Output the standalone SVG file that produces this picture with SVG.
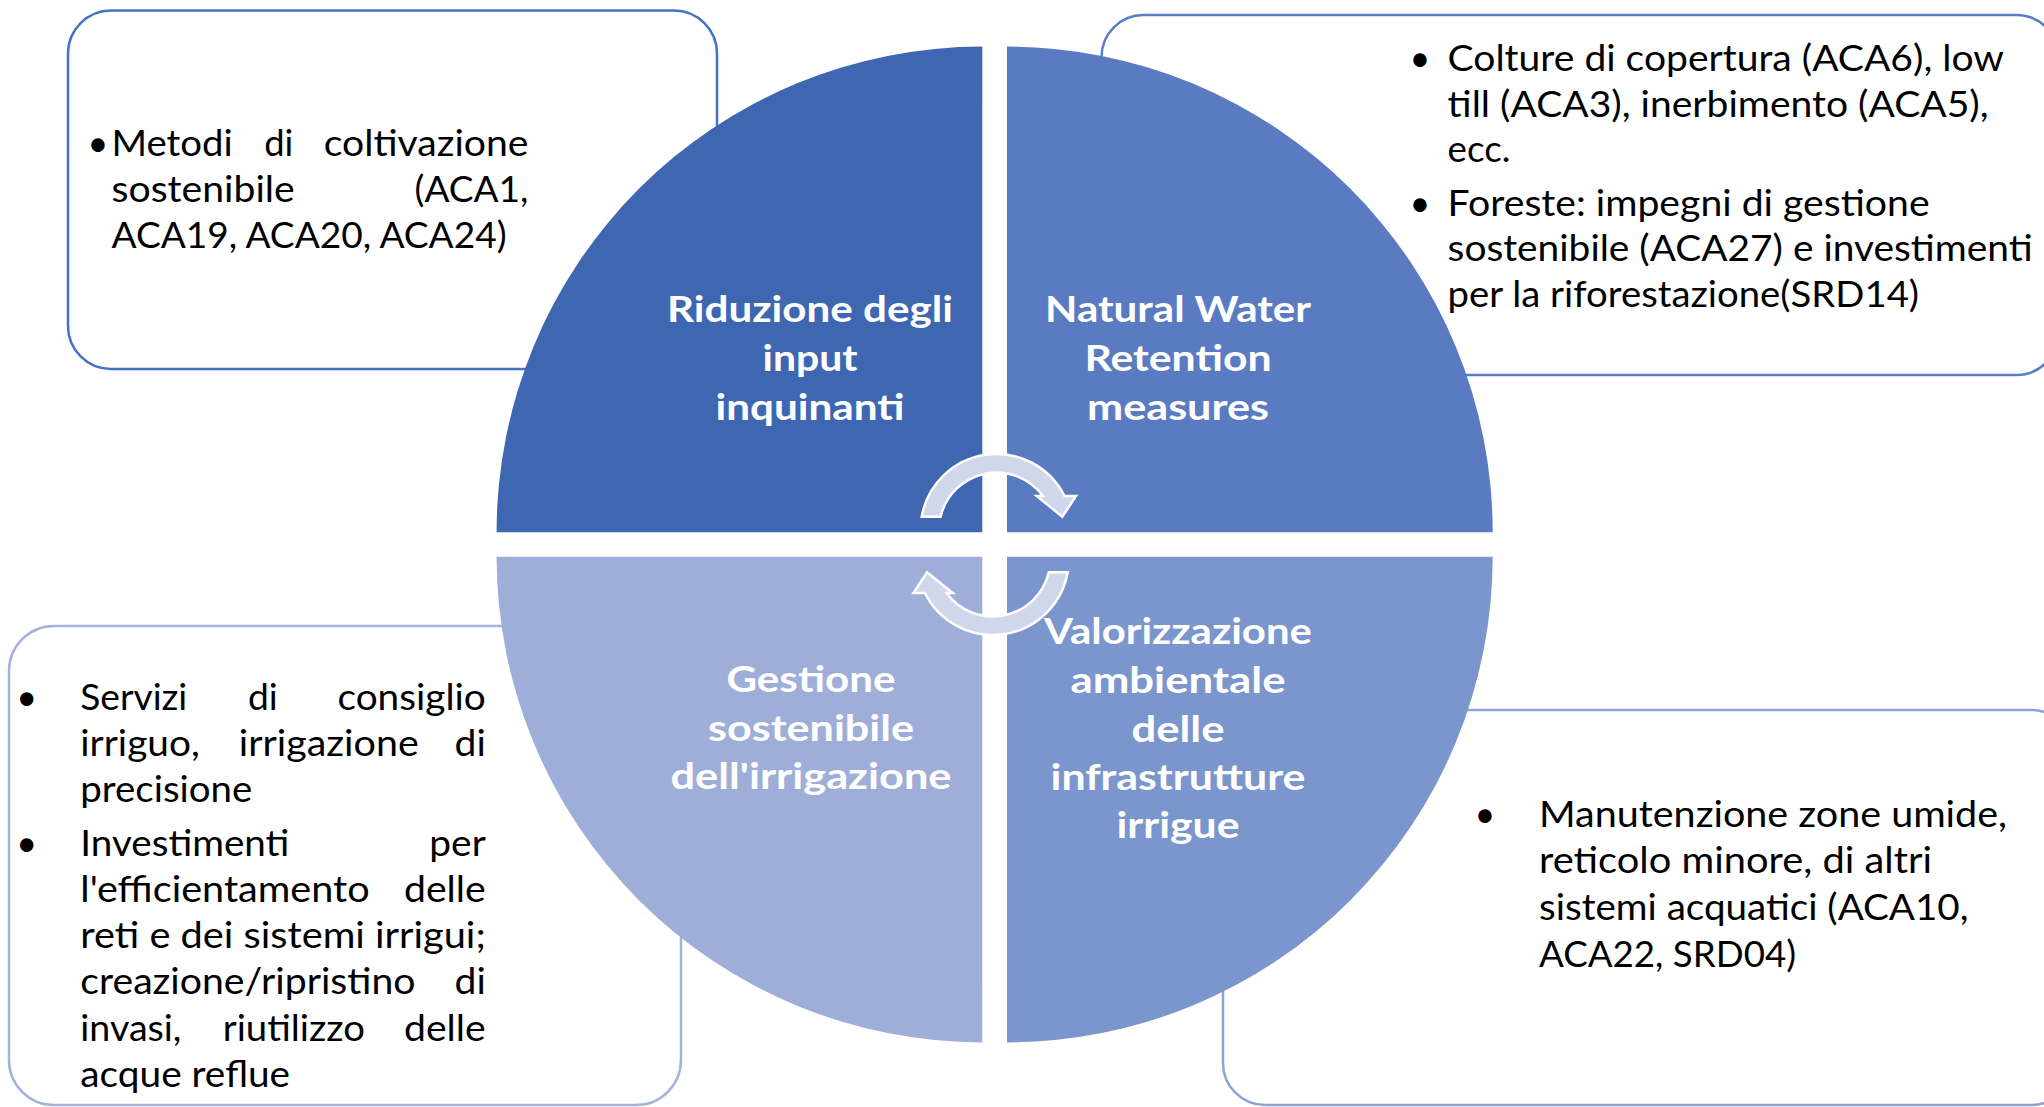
<svg xmlns="http://www.w3.org/2000/svg" xmlns:xlink="http://www.w3.org/1999/xlink" width="2044" height="1107" viewBox="0 0 2044 1107">
<style>
.box{fill:#fff;stroke-width:2.5}
.b1{stroke:#4472C4}.b2{stroke:#5A7DC8}.b3{stroke:#A3B3DE}.b4{stroke:#8BA2D8}
.t{font-family:Lato,"Liberation Sans",sans-serif;font-size:36px;fill:#000}
.bul{text-anchor:middle}
.lbl{font-family:Lato,"Liberation Sans",sans-serif;font-weight:700;font-size:37px;fill:#fff;text-anchor:middle}
.arr{fill:#D0D7EA;stroke:#fff;stroke-width:2.5;stroke-linejoin:miter}
</style>
<defs>
<path id="arrow" d="M 921.7,516.7 A 76 76 0 0 1 1064.5,496 L 1076,496 L 1062.3,516.7 L 1036.7,496 L 1042.9,496 A 57.5 57.5 0 0 0 940.6,516.7 Z"/>
</defs>
<rect width="2044" height="1107" fill="#fff"/>

<g id="box-tl">
<rect class="box b1" x="68" y="10.5" width="649" height="358.5" rx="43"/>
<g class="t">
<text class="bul" x="98" y="156">•</text>
<text x="111.5" y="156" textLength="121.2" lengthAdjust="spacingAndGlyphs">Metodi</text>
<text x="264.2" y="156" textLength="29.1" lengthAdjust="spacingAndGlyphs">di</text>
<text x="323.8" y="156" textLength="204.6" lengthAdjust="spacingAndGlyphs">coltivazione</text>
<text x="111.5" y="202" textLength="183.2" lengthAdjust="spacingAndGlyphs">sostenibile</text>
<text x="414.5" y="202" textLength="113.9" lengthAdjust="spacingAndGlyphs">(ACA1,</text>
<text x="111.5" y="248" textLength="395.1" lengthAdjust="spacingAndGlyphs">ACA19, ACA20, ACA24)</text>
</g>
</g>

<g id="box-tr">
<rect class="box b2" x="1101.5" y="15" width="957" height="360" rx="42"/>
<g class="t">
<text class="bul" x="1420" y="70.7">•</text>
<text class="bul" x="1420" y="215.5">•</text>
<text x="1447.6" y="70.7" textLength="556.4" lengthAdjust="spacingAndGlyphs">Colture di copertura (ACA6), low</text>
<text x="1447.6" y="116.5" textLength="541" lengthAdjust="spacingAndGlyphs">till (ACA3), inerbimento (ACA5),</text>
<text x="1447.6" y="162.3" textLength="62.7" lengthAdjust="spacingAndGlyphs">ecc.</text>
<text x="1447.6" y="215.5" textLength="482" lengthAdjust="spacingAndGlyphs">Foreste: impegni di gestione</text>
<text x="1447.6" y="261.3" textLength="585" lengthAdjust="spacingAndGlyphs">sostenibile (ACA27) e investimenti</text>
<text x="1447.6" y="307" textLength="471.5" lengthAdjust="spacingAndGlyphs">per la riforestazione(SRD14)</text>
</g>
</g>

<g id="box-bl">
<rect class="box b3" x="9" y="626" width="672" height="479" rx="45"/>
<g class="t">
<text class="bul" x="26.6" y="710">•</text>
<text class="bul" x="26.6" y="856">•</text>
<text x="80.3" y="710" textLength="107" lengthAdjust="spacingAndGlyphs">Servizi</text>
<text x="248" y="710" textLength="29.8" lengthAdjust="spacingAndGlyphs">di</text>
<text x="337.5" y="710" textLength="148.3" lengthAdjust="spacingAndGlyphs">consiglio</text>
<text x="80.3" y="756" textLength="119.4" lengthAdjust="spacingAndGlyphs">irriguo,</text>
<text x="238.7" y="756" textLength="180" lengthAdjust="spacingAndGlyphs">irrigazione</text>
<text x="454.5" y="756" textLength="31.3" lengthAdjust="spacingAndGlyphs">di</text>
<text x="80.3" y="802" textLength="172" lengthAdjust="spacingAndGlyphs">precisione</text>
<text x="80.3" y="856" textLength="209" lengthAdjust="spacingAndGlyphs">Investimenti</text>
<text x="429.3" y="856" textLength="56.5" lengthAdjust="spacingAndGlyphs">per</text>
<text x="80.3" y="902" textLength="289.3" lengthAdjust="spacingAndGlyphs">l'efficientamento</text>
<text x="404" y="902" textLength="81.8" lengthAdjust="spacingAndGlyphs">delle</text>
<text x="80.3" y="948" textLength="405.5" lengthAdjust="spacingAndGlyphs">reti e dei sistemi irrigui;</text>
<text x="80.3" y="994" textLength="335.2" lengthAdjust="spacingAndGlyphs">creazione/ripristino</text>
<text x="454.5" y="994" textLength="31.3" lengthAdjust="spacingAndGlyphs">di</text>
<text x="80.3" y="1041" textLength="101.1" lengthAdjust="spacingAndGlyphs">invasi,</text>
<text x="222.7" y="1041" textLength="142.3" lengthAdjust="spacingAndGlyphs">riutilizzo</text>
<text x="404" y="1041" textLength="81.8" lengthAdjust="spacingAndGlyphs">delle</text>
<text x="80.3" y="1087" textLength="209.8" lengthAdjust="spacingAndGlyphs">acque reflue</text>
</g>
</g>

<g id="box-br">
<rect class="box b4" x="1223" y="710" width="850" height="395" rx="42"/>
<g class="t">
<text class="bul" x="1485" y="826.7">•</text>
<text x="1539" y="826.7" textLength="468" lengthAdjust="spacingAndGlyphs">Manutenzione zone umide,</text>
<text x="1539" y="873.3" textLength="393" lengthAdjust="spacingAndGlyphs">reticolo minore, di altri</text>
<text x="1539" y="920" textLength="429.5" lengthAdjust="spacingAndGlyphs">sistemi acquatici (ACA10,</text>
<text x="1539" y="966.7" textLength="257" lengthAdjust="spacingAndGlyphs">ACA22, SRD04)</text>
</g>
</g>

<g id="quadrant-tl">
<path fill="#3F66B0" d="M 982.3,532.3 L 496.6,532.3 A 485.7 485.7 0 0 1 982.3,46.6 Z"/>
</g>
<g id="quadrant-tr">
<path fill="#5A7BC2" d="M 1007,532.3 L 1007,46.6 A 485.7 485.7 0 0 1 1492.7,532.3 Z"/>
</g>
<g id="quadrant-br">
<path fill="#7B95CD" d="M 1007,556.7 L 1492.7,556.7 A 485.7 485.7 0 0 1 1007,1042.4 Z"/>
</g>
<g id="quadrant-bl">
<path fill="#9FAED8" d="M 982.3,556.7 L 982.3,1042.4 A 485.7 485.7 0 0 1 496.6,556.7 Z"/>
</g>

<g id="connectors">
<use xlink:href="#arrow" class="arr"/>
<use xlink:href="#arrow" class="arr" transform="rotate(180 994.7 544.5)"/>
</g>

<g id="labels">
<g id="label-tl">
<text class="lbl" x="810" y="322" textLength="286" lengthAdjust="spacingAndGlyphs">Riduzione degli</text>
<text class="lbl" x="810" y="371" textLength="95" lengthAdjust="spacingAndGlyphs">input</text>
<text class="lbl" x="810" y="420" textLength="189" lengthAdjust="spacingAndGlyphs">inquinanti</text>
</g>
<g id="label-tr">
<text class="lbl" x="1178" y="322" textLength="266" lengthAdjust="spacingAndGlyphs">Natural Water</text>
<text class="lbl" x="1178" y="371" textLength="187" lengthAdjust="spacingAndGlyphs">Retention</text>
<text class="lbl" x="1178" y="420" textLength="182" lengthAdjust="spacingAndGlyphs">measures</text>
</g>
<g id="label-bl">
<text class="lbl" x="811" y="692" textLength="169" lengthAdjust="spacingAndGlyphs">Gestione</text>
<text class="lbl" x="811" y="741" textLength="206" lengthAdjust="spacingAndGlyphs">sostenibile</text>
<text class="lbl" x="811" y="789" textLength="281" lengthAdjust="spacingAndGlyphs">dell'irrigazione</text>
</g>
<g id="label-br">
<text class="lbl" x="1178" y="643.5" textLength="268" lengthAdjust="spacingAndGlyphs">Valorizzazione</text>
<text class="lbl" x="1178" y="693" textLength="215" lengthAdjust="spacingAndGlyphs">ambientale</text>
<text class="lbl" x="1178" y="741.5" textLength="93" lengthAdjust="spacingAndGlyphs">delle</text>
<text class="lbl" x="1178" y="789.5" textLength="255" lengthAdjust="spacingAndGlyphs">infrastrutture</text>
<text class="lbl" x="1178" y="838" textLength="123" lengthAdjust="spacingAndGlyphs">irrigue</text>
</g>
</g>
</svg>
